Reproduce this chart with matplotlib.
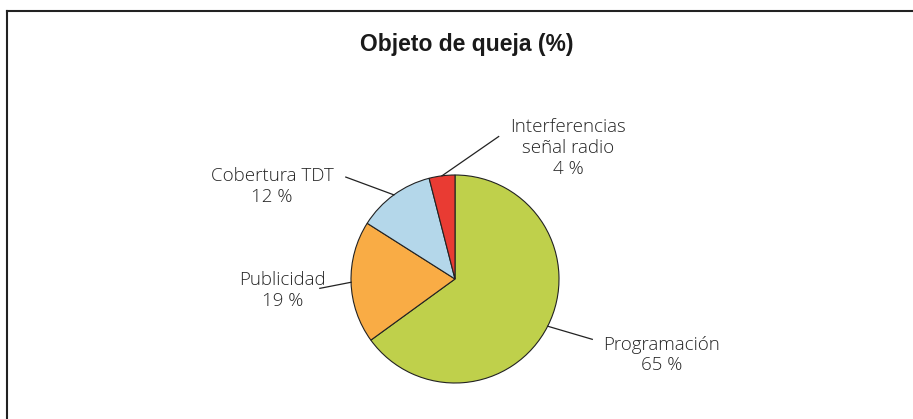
import numpy as np
import matplotlib

matplotlib.use("Agg")
import matplotlib.pyplot as plt
from matplotlib.lines import Line2D

# data
categories = ["Programación", "Publicidad", "Cobertura TDT", "Interferencias\nseñal radio"]
shares = [65, 19, 12, 4]
colors = ["#BFD04B", "#F9AC45", "#B4D7EA", "#E93B33"]
title = "Objeto de queja (%)"

# layout: label centre and leader-line elbow, in pie radii from the centre
label_pos = [(1.99, -0.73), (-1.66, -0.11), (-1.76, 0.89), (1.09, 1.26)]
line_end = [(1.32, -0.58), (-1.30, -0.09), (-1.05, 0.98), (0.42, 1.37)]

W, H = 913, 419
R = 104.0  # pie radius in px
cx, cy = 455.0, 419 - 279.0  # pie centre in px (y up)

fig = plt.figure(figsize=(W / 100, H / 100), dpi=100)
ax = fig.add_axes([0, 0, 1, 1])

wedges, _ = ax.pie(
    shares,
    colors=colors,
    startangle=90,
    counterclock=False,
    radius=1.0,
    center=(0, 0),
    wedgeprops=dict(edgecolor="#222222", linewidth=0.8),
)
ax.set_xlim(-cx / R, (W - cx) / R)
ax.set_ylim(-cy / R, (H - cy) / R)
ax.set_aspect("auto")
ax.axis("off")

font = ["Open Sans", "DejaVu Sans"]
for w, name, val, (tx, ty), (lx, ly) in zip(wedges, categories, shares, label_pos, line_end):
    mid = np.deg2rad((w.theta1 + w.theta2) / 2)
    ax.plot([np.cos(mid), lx], [np.sin(mid), ly], color="#222222", lw=0.9)
    ax.text(tx, ty, f"{name}\n{val} %", ha="center", va="center", fontsize=13.5,
            color="#262626", family=font, fontweight="light", linespacing=1.2)

fig.text(467 / W, 1 - 44 / H, title, ha="center", va="center", fontsize=16.5,
         fontweight="bold", color="#1a1a1a", family=["Liberation Sans", "DejaVu Sans"])

# frame lines (left and top)
fig.add_artist(Line2D([7 / W, 7 / W], [0, 1 - 11 / H], transform=fig.transFigure, color="#222222", lw=1.5))
fig.add_artist(Line2D([7 / W, 1], [1 - 11 / H, 1 - 11 / H], transform=fig.transFigure, color="#222222", lw=1.5))

fig.savefig("out.png", dpi=100)
